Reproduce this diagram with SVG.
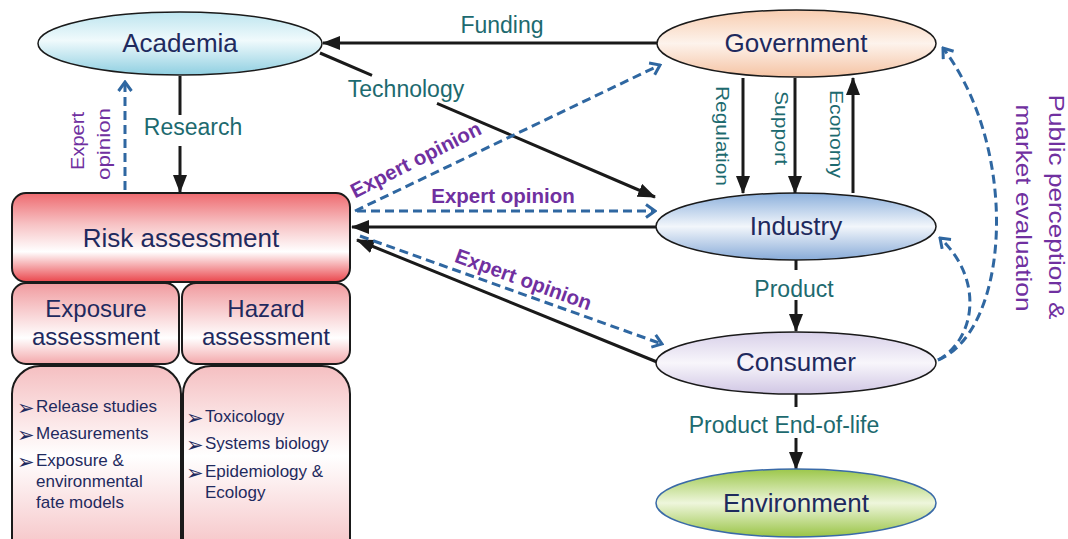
<svg xmlns="http://www.w3.org/2000/svg" width="1068" height="539" viewBox="0 0 1068 539">
<style>
text{font-family:"Liberation Sans",Arial,sans-serif}
.node{font-size:26px;fill:#1f2a5e;text-anchor:middle}
.sub{font-size:24px;fill:#1f2a5e;text-anchor:middle}
.lst{font-size:17px;fill:#1f2a5e}
.bul{font-family:"DejaVu Sans",sans-serif;font-size:21px;fill:#1f2a5e}
.lbl{font-size:23px;fill:#1d6a6f;text-anchor:middle}
.vlbl{font-size:18.5px;fill:#1d6a6f;text-anchor:middle}
.exp{font-size:20.5px;font-weight:bold;fill:#7030a0;text-anchor:middle}
.pur{fill:#7030a0;text-anchor:middle}
.sol{stroke:#1a1a1a;stroke-width:3;fill:none}
.dsh{stroke:#2f67a1;stroke-width:3;fill:none;stroke-dasharray:9 5}
.ell{stroke:#1a1a1a;stroke-width:1.5}
.box{stroke:#1a1a1a;stroke-width:2}
</style>
<defs>
<marker id="ah" viewBox="0 0 18 14" refX="17" refY="7" markerWidth="18" markerHeight="14" markerUnits="userSpaceOnUse" orient="auto"><path d="M0,0 L18,7 L0,14 z" fill="#1a1a1a"/></marker>
<marker id="ch" viewBox="0 0 16 16" refX="14" refY="8" markerWidth="16" markerHeight="16" markerUnits="userSpaceOnUse" orient="auto"><path d="M5,1.5 L14,8 L5,14.5" fill="none" stroke="#2f67a1" stroke-width="3"/></marker>
<linearGradient id="gAca" x1="0" y1="0" x2="0" y2="1"><stop offset="0" stop-color="#bde5ef"/><stop offset=".45" stop-color="#f0fafc"/><stop offset="1" stop-color="#8fcfe1"/></linearGradient>
<linearGradient id="gGov" x1="0" y1="0" x2="0" y2="1"><stop offset="0" stop-color="#f8cdb0"/><stop offset=".5" stop-color="#fdf3ec"/><stop offset="1" stop-color="#f5c3a3"/></linearGradient>
<linearGradient id="gInd" x1="0" y1="0" x2="0" y2="1"><stop offset="0" stop-color="#8cb0dc"/><stop offset=".5" stop-color="#f2f6fb"/><stop offset="1" stop-color="#88abd8"/></linearGradient>
<linearGradient id="gCon" x1="0" y1="0" x2="0" y2="1"><stop offset="0" stop-color="#d8d0e9"/><stop offset=".5" stop-color="#f8f6fb"/><stop offset="1" stop-color="#d0c6e4"/></linearGradient>
<linearGradient id="gEnv" x1="0" y1="0" x2="0" y2="1"><stop offset="0" stop-color="#9cc74a"/><stop offset=".5" stop-color="#eef6dc"/><stop offset="1" stop-color="#99c446"/></linearGradient>
<linearGradient id="gRisk" x1="0" y1="0" x2="0" y2="1"><stop offset="0" stop-color="#ee6a6f"/><stop offset=".35" stop-color="#f7c2c4"/><stop offset=".66" stop-color="#ffffff"/><stop offset="1" stop-color="#ea464c"/></linearGradient>
<linearGradient id="gSub" x1="0" y1="0" x2="0" y2="1"><stop offset="0" stop-color="#f09a9e"/><stop offset=".68" stop-color="#ffffff"/><stop offset="1" stop-color="#f3a7aa"/></linearGradient>
<linearGradient id="gList" x1="0" y1="0" x2="0" y2="1"><stop offset="0" stop-color="#f5bfc1"/><stop offset=".45" stop-color="#ffffff"/><stop offset="1" stop-color="#f4babd"/></linearGradient>
</defs>

<g id="connectors">
<path class="sol" d="M657 43 L323 43" marker-end="url(#ah)"/>
<path class="sol" d="M320 53 L372 75.4"/>
<path class="sol" d="M437 103.3 L655 197" marker-end="url(#ah)"/>
<path class="sol" d="M180 76 L180 115"/>
<path class="sol" d="M180 146 L180 192" marker-end="url(#ah)"/>
<path class="sol" d="M656 227 L352 227" marker-end="url(#ah)"/>
<path class="sol" d="M657 362 L357 240" marker-end="url(#ah)"/>
<path class="sol" d="M743 78 L743 193" marker-end="url(#ah)"/>
<path class="sol" d="M795 78 L795 193" marker-end="url(#ah)"/>
<path class="sol" d="M853 193 L853 78" marker-end="url(#ah)"/>
<path class="sol" d="M796 260 L796 270"/>
<path class="sol" d="M796 300 L796 331" marker-end="url(#ah)"/>
<path class="sol" d="M796 394 L796 407"/>
<path class="sol" d="M796 438 L796 469" marker-end="url(#ah)"/>

<path class="dsh" d="M125 190 L125 82" marker-end="url(#ch)"/>
<path class="dsh" d="M355 211 L660 65" marker-end="url(#ch)"/>
<path class="dsh" d="M357 211 L655 211" marker-end="url(#ch)"/>
<path class="dsh" d="M360 236 L662 344" marker-end="url(#ch)"/>
<path class="dsh" d="M938 360 C1010 330 1020 150 943 48" marker-end="url(#ch)"/>
<path class="dsh" d="M938 360 C975 340 985 280 940 238" marker-end="url(#ch)"/>

<text class="lbl" x="502" y="33">Funding</text>
<text class="lbl" x="406" y="97">Technology</text>
<text class="lbl" x="193" y="135">Research</text>
<text class="lbl" x="794" y="297">Product</text>
<text class="lbl" x="784" y="433">Product End-of-life</text>
<text class="vlbl" transform="translate(716 136) rotate(90)" textLength="100" lengthAdjust="spacingAndGlyphs">Regulation</text>
<text class="vlbl" transform="translate(775 128) rotate(90)" textLength="74" lengthAdjust="spacingAndGlyphs">Support</text>
<text class="vlbl" transform="translate(830 134) rotate(90)" textLength="88" lengthAdjust="spacingAndGlyphs">Economy</text>
<text class="pur" style="font-size:19px" transform="translate(84 141) rotate(-90)" textLength="58" lengthAdjust="spacingAndGlyphs">Expert</text>
<text class="pur" style="font-size:19px" transform="translate(110 144) rotate(-90)" textLength="72" lengthAdjust="spacingAndGlyphs">opinion</text>
<text class="exp" transform="translate(419 166) rotate(-27)">Expert opinion</text>
<text class="exp" x="503" y="203">Expert opinion</text>
<text class="exp" transform="translate(521 286) rotate(20)">Expert opinion</text>
<text class="pur" style="font-size:22px" transform="translate(1049 207) rotate(90)" textLength="225" lengthAdjust="spacingAndGlyphs">Public perception &amp;</text>
<text class="pur" style="font-size:22px" transform="translate(1016 208) rotate(90)" textLength="207" lengthAdjust="spacingAndGlyphs">market evaluation</text>
</g>

<g id="academia"><ellipse class="ell" cx="180" cy="43.5" rx="142" ry="31.5" fill="url(#gAca)"/><text class="node" x="180" y="52">Academia</text></g>
<g id="government"><ellipse class="ell" cx="796.5" cy="43.5" rx="139.5" ry="33.5" fill="url(#gGov)"/><text class="node" x="796" y="52">Government</text></g>
<g id="industry"><ellipse class="ell" cx="796" cy="226.5" rx="140" ry="33.5" fill="url(#gInd)"/><text class="node" x="796" y="235">Industry</text></g>
<g id="consumer"><ellipse class="ell" cx="796" cy="363" rx="140" ry="31" fill="url(#gCon)"/><text class="node" x="796" y="371">Consumer</text></g>
<g id="environment"><ellipse cx="796" cy="503" rx="140" ry="34" fill="url(#gEnv)" stroke="#3a6aa8" stroke-width="1.5"/><text class="node" x="796" y="512">Environment</text></g>

<g id="risk-assessment"><rect class="box" x="12" y="193" width="338" height="89" rx="14" fill="url(#gRisk)"/><text class="node" x="181" y="247">Risk assessment</text></g>
<g id="exposure-assessment"><rect class="box" x="12" y="283" width="167" height="81" rx="14" fill="url(#gSub)"/><text class="sub" x="96" y="317">Exposure</text><text class="sub" x="96" y="345">assessment</text></g>
<g id="hazard-assessment"><rect class="box" x="182" y="283" width="168" height="81" rx="14" fill="url(#gSub)"/><text class="sub" x="266" y="317">Hazard</text><text class="sub" x="266" y="345">assessment</text></g>
<g id="exposure-methods"><rect class="box" x="12" y="366" width="169" height="200" rx="28" fill="url(#gList)"/>
<text class="bul" x="17" y="415">➢</text><text class="lst" x="36" y="412">Release studies</text>
<text class="bul" x="17" y="442">➢</text><text class="lst" x="36" y="439">Measurements</text>
<text class="bul" x="17" y="469">➢</text><text class="lst" x="36" y="466">Exposure &amp;</text>
<text class="lst" x="36" y="487">environmental</text>
<text class="lst" x="36" y="508">fate models</text></g>
<g id="hazard-methods"><rect class="box" x="183" y="366" width="167" height="200" rx="28" fill="url(#gList)"/>
<text class="bul" x="186" y="425">➢</text><text class="lst" x="205" y="422">Toxicology</text>
<text class="bul" x="186" y="452">➢</text><text class="lst" x="205" y="449">Systems biology</text>
<text class="bul" x="186" y="480">➢</text><text class="lst" x="205" y="477">Epidemiology &amp;</text>
<text class="lst" x="205" y="498">Ecology</text></g>
</svg>
